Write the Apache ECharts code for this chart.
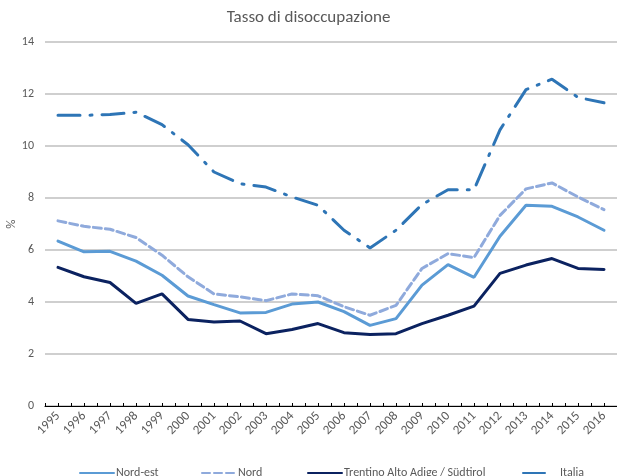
<!DOCTYPE html>
<html>
<head>
<meta charset="utf-8">
<script src="https://cdn.jsdelivr.net/npm/echarts@6/dist/echarts.min.js"></script>
<style>
  html, body { margin: 0; padding: 0; background: #fff; }
  #chart { width: 617px; height: 476px; }
</style>
</head>
<body>
<div id="chart"></div>
<script>
// Tasso di disoccupazione (%).
const years = [
  "1995", "1996", "1997", "1998", "1999", "2000", "2001", "2002", "2003", "2004", "2005",
  "2006", "2007", "2008", "2009", "2010", "2011", "2012", "2013", "2014", "2015", "2016",
];

const nordEst = [6.34, 5.93, 5.95, 5.57, 5.03, 4.23, 3.9, 3.58, 3.6, 3.92, 4.0,
  3.63, 3.1, 3.36, 4.65, 5.44, 4.95, 6.53, 7.72, 7.68, 7.27, 6.76];
const nord = [7.12, 6.91, 6.8, 6.48, 5.8, 4.97, 4.31, 4.2, 4.05, 4.31, 4.24,
  3.82, 3.49, 3.87, 5.29, 5.86, 5.71, 7.33, 8.35, 8.58, 8.04, 7.55];
const trentino = [5.33, 4.97, 4.75, 3.95, 4.31, 3.33, 3.23, 3.27, 2.78, 2.94, 3.17,
  2.82, 2.75, 2.78, 3.17, 3.49, 3.84, 5.1, 5.42, 5.67, 5.29, 5.25];
const italia = [11.18, 11.18, 11.21, 11.3, 10.82, 10.05, 9.0, 8.55, 8.42, 8.04, 7.72,
  6.76, 6.08, 6.76, 7.75, 8.32, 8.32, 10.62, 12.17, 12.57, 11.87, 11.66];

const yTicks = { min: 0, max: 14, interval: 2 };

const FONT = "Carlito, 'Liberation Sans Narrow', 'Noto Sans', sans-serif";
const GREY = "#595959";

const chart = echarts.init(document.getElementById("chart"), null, { renderer: "canvas" });

function lineSeries(name, data, color, type) {
  return {
    name, type: "line", data, symbol: "none", smooth: false,
    lineStyle: { color, width: 3, type, cap: "round" },
    itemStyle: { color },
  };
}

// One legend per entry so each sits where Excel put it.
function legendItem(name, left, width = 34, pad = -3) {
  return {
    data: [name], left, top: 462, itemWidth: width, itemHeight: 8, itemGap: 0,
    itemStyle: { color: "transparent", borderWidth: 0, opacity: 0 },
    textStyle: { color: GREY, fontSize: 12, fontFamily: FONT, padding: [0, 0, 0, pad] },
  };
}

chart.setOption({
  animation: false,
  title: {
    text: "Tasso di disoccupazione", left: "center", top: 4,
    textStyle: { color: GREY, fontSize: 17, fontWeight: "normal", fontFamily: FONT },
  },
  grid: { left: 45, right: 0, top: 42, bottom: 70, containLabel: false, outerBoundsMode: "none" },
  legend: [
    legendItem("Nord-est", 74),
    legendItem("Nord", 196),
    legendItem("Trentino Alto Adige / Südtirol", 302),
    legendItem("Italia", 517, 26, 6),
  ],
  xAxis: [
    {
      type: "category", data: years, boundaryGap: true,
      axisLine: { lineStyle: { color: "#000", width: 1 } },
      axisTick: { show: true, interval: 0, length: 3, inside: true, lineStyle: { color: "#000" } },
      axisLabel: { interval: 0, rotate: 45, color: GREY, fontSize: 13, fontFamily: FONT, margin: 8 },
      splitLine: { show: false },
    },
    {
      type: "category", data: years, boundaryGap: true, position: "bottom",
      axisLine: { show: false },
      axisTick: { show: true, interval: 0, alignWithLabel: true, length: 3, inside: true, lineStyle: { color: "#000" } },
      axisLabel: { show: false },
    },
  ],
  yAxis: {
    type: "value", ...yTicks,
    name: "%", nameLocation: "middle", nameGap: 27, nameRotate: 90, nameMoveOverlap: false,
    nameTextStyle: { color: GREY, fontSize: 13, fontFamily: FONT },
    axisLine: { show: false }, axisTick: { show: false },
    axisLabel: { color: GREY, fontSize: 12, fontFamily: FONT, margin: 11 },
    splitLine: { lineStyle: { color: "#BFBFBF", width: 1.5 } },
  },
  series: [
    lineSeries("Nord-est", nordEst, "#5B9BD5", "solid"),
    lineSeries("Nord", nord, "#8FAADC", [8, 4]),
    lineSeries("Trentino Alto Adige / Südtirol", trentino, "#0B2260", "solid"),
    lineSeries("Italia", italia, "#2E75B6", [22, 10, 2, 10]),
  ],
});
</script>
</body>
</html>
